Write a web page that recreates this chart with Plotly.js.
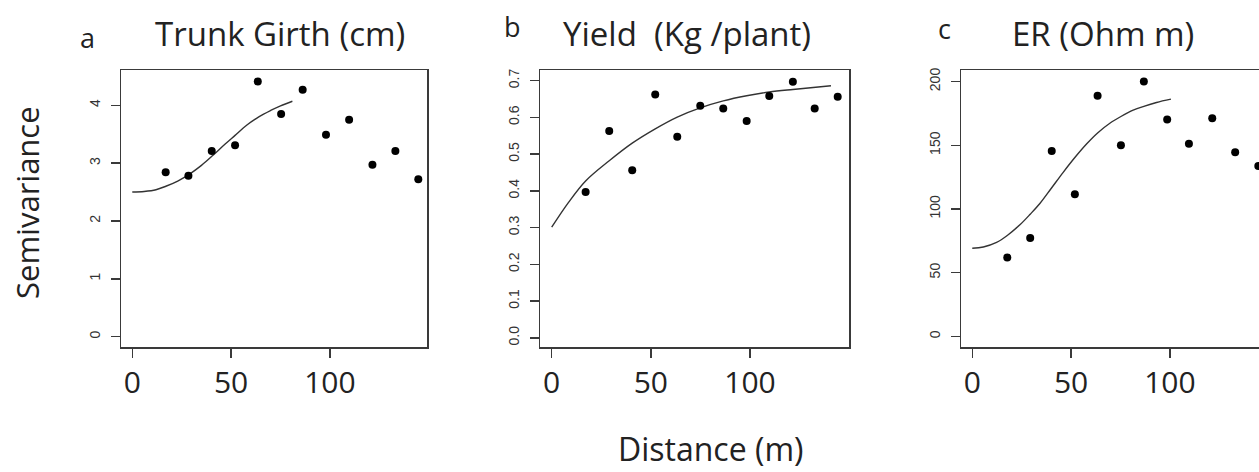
<!DOCTYPE html>
<html>
<head>
<meta charset="utf-8">
<script src="https://cdn.plot.ly/plotly-3.0.1.min.js"></script>
<style>
html, body { margin: 0; padding: 0; overflow: hidden; background: #fff; }
#chart { width: 1275px; height: 472px; }
</style>
</head>
<body>
<div id="chart"></div>
<script>
// ---- data ----
const panelLetters = ["a", "b", "c"];
const panelTitles = ["Trunk Girth (cm)", "Yield\u00a0 (Kg /plant)", "ER (Ohm m)"];
const xTickVals = [0, 50, 100];
const yTickValsA = [0, 1, 2, 3, 4];
const yTickValsB = [0, 0.1, 0.2, 0.3, 0.4, 0.5, 0.6, 0.7];
const yTickValsC = [0, 50, 100, 150, 200];

// empirical semivariance (a: trunk girth)
const lagA = [16.9, 28.4, 40.2, 52.0, 63.5, 75.3, 86.2, 98.0, 109.7, 121.5, 133.1, 144.7];
const gammaA = [2.84, 2.78, 3.21, 3.31, 4.41, 3.85, 4.27, 3.49, 3.75, 2.97, 3.21, 2.72];
// fitted model (a)
const fitDistA = [0, 6, 12, 17, 23, 29, 35, 41, 47, 52, 58, 64, 70, 75, 81];
const fitGammaA = [2.50, 2.51, 2.54, 2.60, 2.69, 2.81, 2.96, 3.14, 3.33, 3.48, 3.66, 3.80, 3.91, 3.99, 4.07];

// (b: yield)
const lagB = [17.1, 29.0, 40.6, 52.2, 63.3, 74.9, 86.5, 98.3, 109.7, 121.6, 132.6, 144.2];
const gammaB = [0.397, 0.563, 0.456, 0.662, 0.547, 0.632, 0.624, 0.590, 0.658, 0.697, 0.624, 0.656];
const fitDistB = [0, 8.4, 17.1, 29.0, 40.6, 52.2, 63.3, 74.9, 86.5, 98.3, 109.7, 121.6, 140.8];
const fitGammaB = [0.301, 0.368, 0.427, 0.482, 0.530, 0.569, 0.601, 0.626, 0.645, 0.659, 0.669, 0.676, 0.686];

// (c: ER)
const lagC = [17.7, 29.3, 40.2, 51.9, 63.4, 75.2, 86.8, 98.6, 109.6, 121.4, 133.0, 144.7];
const gammaC = [61.9, 77.3, 145.6, 111.6, 188.8, 150.1, 200.0, 170.2, 151.3, 171.3, 144.6, 133.8];
const fitDistC = [0, 5.6, 12.3, 17.7, 24.1, 29.3, 34.2, 40.1, 46.0, 51.9, 57.8, 63.4, 69.6, 75.2, 81.4, 86.8, 93.2, 100.5];
const fitGammaC = [69.2, 70.2, 73.8, 79.2, 87.6, 95.9, 104.3, 116.5, 128.8, 140.4, 151.0, 159.7, 167.3, 172.6, 177.6, 180.6, 183.6, 186.2];

const xLabel = "Distance (m)";
const yLabel = "Semivariance";

// ---- layout ----
const W = 1275, H = 472;
const px = v => v / W;
const py = v => 1 - v / H;
const FONT = "Open Sans, Noto Sans, sans-serif";
const ink = "#222";
const frame = "#3a3a3a";

function pts(x, y, xa, ya) {
  return {x: x, y: y, xaxis: xa, yaxis: ya, type: "scatter", mode: "markers",
    marker: {color: "#000", size: 8}, hoverinfo: "skip", cliponaxis: false};
}
function fit(x, y, xa, ya) {
  return {x: x, y: y, xaxis: xa, yaxis: ya, type: "scatter", mode: "lines",
    line: {color: "#333", width: 1.4, shape: "spline", smoothing: 1.0}, hoverinfo: "skip"};
}

const data = [
  fit(fitDistA, fitGammaA, "x", "y"), pts(lagA, gammaA, "x", "y"),
  fit(fitDistB, fitGammaB, "x2", "y2"), pts(lagB, gammaB, "x2", "y2"),
  fit(fitDistC, fitGammaC, "x3", "y3"), pts(lagC, gammaC, "x3", "y3")
];

function xax(d0, d1, range, anchor) {
  return {domain: [px(d0), px(d1)], range: range, anchor: anchor,
    showgrid: false, zeroline: false, showline: true, mirror: true,
    linecolor: frame, linewidth: 1.5, ticks: "outside", ticklen: 9, tickwidth: 1.5,
    tickcolor: frame, tickmode: "array", tickvals: xTickVals,
    tickfont: {family: FONT, size: 30, color: ink}, ticklabelstandoff: -1};
}
function yax(range, anchor, vals, fmt) {
  return {domain: [py(347), py(70)], range: range, anchor: anchor,
    showgrid: false, zeroline: false, showline: true, mirror: true,
    linecolor: frame, linewidth: 1.5, ticks: "outside", ticklen: 9, tickwidth: 1.5,
    tickcolor: frame, tickmode: "array", tickvals: vals, tickformat: fmt,
    tickangle: -90, ticklabelstandoff: 5,
    tickfont: {family: "Liberation Sans, Arial, sans-serif", size: 14, color: "#333"}};
}

const annotations = [];
const letterPos = [[87, 37], [512, 27], [944, 29]];
const titlePos = [[280, 33], [687, 33], [1103, 33]];
for (let i = 0; i < 3; i++) {
  annotations.push({text: panelLetters[i], xref: "paper", yref: "paper",
    x: px(letterPos[i][0]), y: py(letterPos[i][1]), xanchor: "center", yanchor: "middle",
    showarrow: false, font: {family: FONT, size: 27, color: ink}});
  annotations.push({text: panelTitles[i], xref: "paper", yref: "paper",
    x: px(titlePos[i][0]), y: py(titlePos[i][1]), xanchor: "center", yanchor: "middle",
    showarrow: false, font: {family: FONT, size: 33, color: ink}});
}
annotations.push({text: yLabel, xref: "paper", yref: "paper", x: px(27), y: py(203),
  xanchor: "center", yanchor: "middle", textangle: -90, showarrow: false,
  font: {family: FONT, size: 31, color: ink}});
annotations.push({text: xLabel, xref: "paper", yref: "paper", x: px(710), y: py(448),
  xanchor: "center", yanchor: "middle", showarrow: false,
  font: {family: FONT, size: 32, color: ink}});

const layout = {
  width: W, height: H, margin: {l: 0, r: 0, t: 0, b: 0},
  paper_bgcolor: "#fff", plot_bgcolor: "#fff", showlegend: false,
  xaxis: xax(121, 427, [-5.7, 149.1], "y"),
  yaxis: yax([-0.18, 4.61], "x", yTickValsA, ""),
  xaxis2: xax(540, 849, [-5.9, 149.9], "y2"),
  yaxis2: yax([-0.025, 0.729], "x2", yTickValsB, ".1f"),
  xaxis3: xax(961, 1267, [-5.7, 149.1], "y3"),
  yaxis3: yax([-8.3, 209.1], "x3", yTickValsC, ""),
  annotations: annotations
};

Plotly.newPlot("chart", data, layout, {displayModeBar: false, staticPlot: true});
</script>
</body>
</html>
